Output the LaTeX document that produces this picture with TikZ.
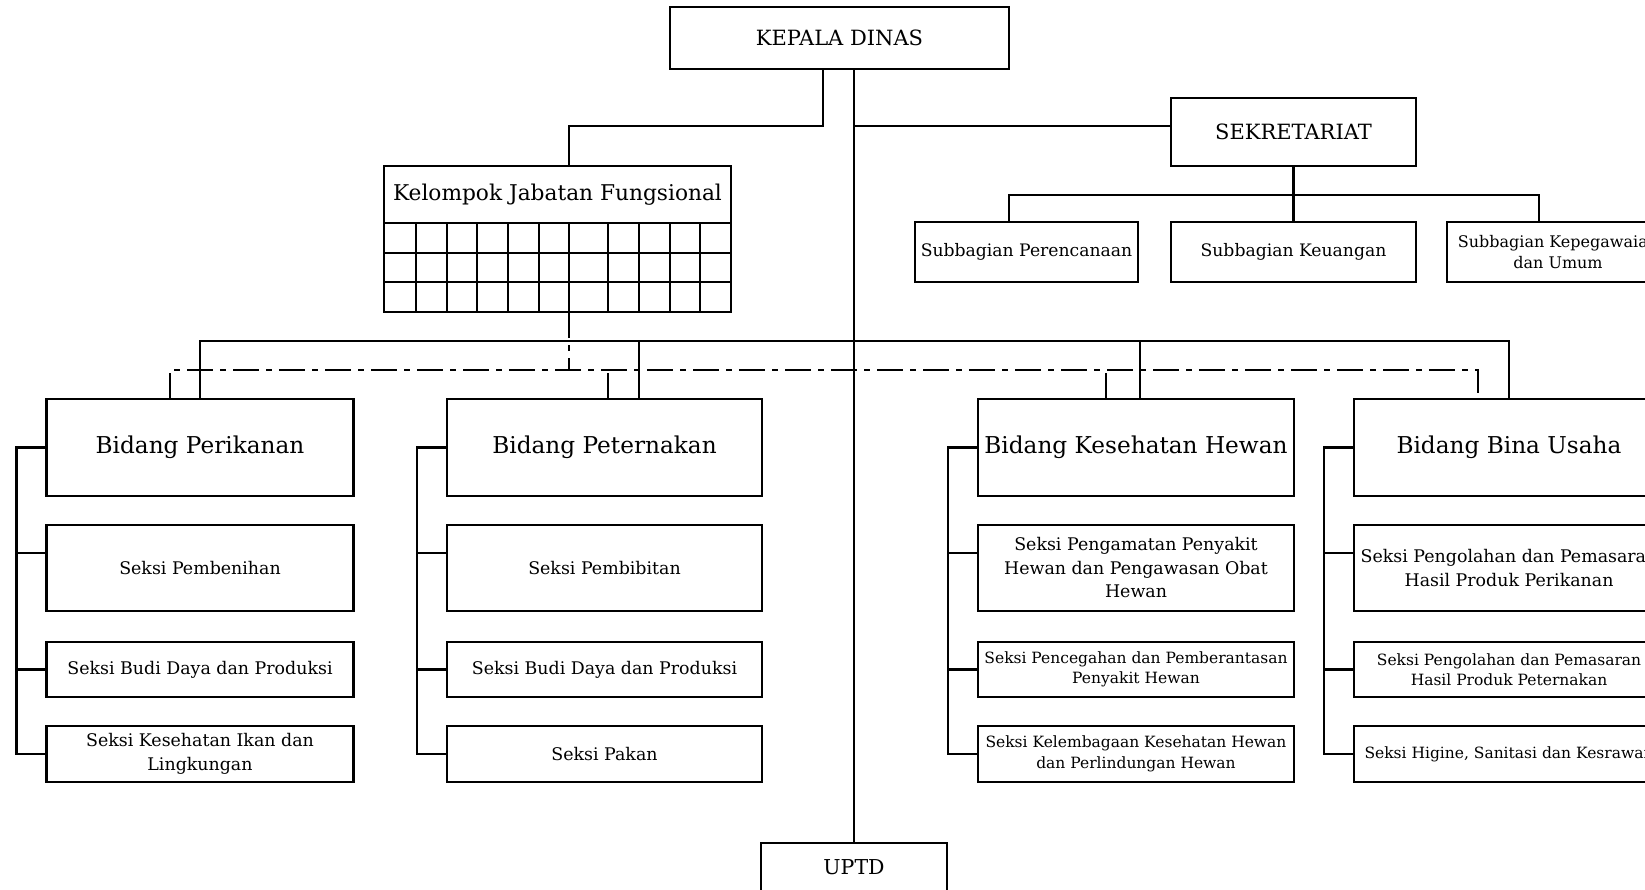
\documentclass[tikz,border=0pt]{standalone}
\usepackage{fontspec}
\setmainfont{DejaVu Serif}
\usetikzlibrary{positioning}
\tikzset{
    box/.style = {draw=black, line width=2.1pt, align=center, inner sep=0pt, outer sep=0pt},
    % Kepala dinas, sekretariat, UPTD
    node_top/.style = {box, font=\fontsize{21}{24}\selectfont},
    % Subbagian
    node_sub/.style = {box, minimum height=60pt, font=\fontsize{17.2}{21}\selectfont},
    % Bidang
    node_bid/.style = {box, minimum width=#1, minimum height=97pt, font=\fontsize{23.2}{27}\selectfont},
    % Seksi
    node_sek/.style = {box, font=\fontsize{17.4}{23.5}\selectfont},
    node_sek_s/.style = {box, font=\fontsize{15.5}{20.5}\selectfont},
    conn/.style = {line width=2.1pt},
    dconn/.style = {conn, dash pattern=on 26pt off 7pt on 6pt off 7pt}
}

\begin{document}
\begin{tikzpicture}[x=1pt, y=-1pt, node distance=29pt]
\useasboundingbox (0,0) rectangle (1645,889);

    % top
    \node[node_top, minimum width=339pt, minimum height=62pt] (kd) at (839.5,38) {KEPALA DINAS};
    \node[node_top, minimum width=245pt, minimum height=68pt] (sek) at (1293.5,132) {SEKRETARIAT};
    \node[node_top, minimum width=186pt, minimum height=48pt, font=\fontsize{20.5}{24}\selectfont] (uptd) at (854,867) {UPTD};

    \node[node_sub, minimum width=223pt] (sub1) at (1026.5,252) {Subbagian Perencanaan};
    \node[node_sub, minimum width=245pt] (sub2) at (1293.5,252) {Subbagian Keuangan};
    \node[node_sub, minimum width=222pt, font=\fontsize{16}{20.5}\selectfont] (sub3) at (1558,252) {Subbagian Kepegawaian\\dan Umum};

    % kelompok jabatan fungsional
    \node[box, minimum width=347pt, minimum height=57pt, font=\fontsize{21.7}{25}\selectfont] (kjf) at (557.5,194.5) {Kelompok Jabatan Fungsional};
    \draw[conn] (kjf.south west) rectangle (731,312);
    \foreach \y in {253,282} \draw[conn] (384,\y) -- (731,\y);
    \foreach \x in {416,447,477,508,539,569,608,639,670,700} \draw[conn] (\x,223) -- (\x,312);

    % bidang
    \node[node_bid=307pt] (bp) at (200,447.5) {Bidang Perikanan};
    \node[node_bid=315pt] (bt) at (604.5,447.5) {Bidang Peternakan};
    \node[node_bid=316pt] (bk) at (1136,447.5) {Bidang Kesehatan Hewan};
    \node[node_bid=310pt] (bu) at (1509,447.5) {Bidang Bina Usaha};

    % seksi
    \node[node_sek, minimum width=307pt, minimum height=86pt, below=of bp] (bp1) {Seksi Pembenihan};
    \node[node_sek, minimum width=307pt, minimum height=55pt, below=31pt of bp1] (bp2) {Seksi Budi Daya dan Produksi};
    \node[node_sek, minimum width=307pt, minimum height=56pt, below=of bp2] (bp3) {Seksi Kesehatan Ikan dan\\Lingkungan};

    \node[node_sek, minimum width=315pt, minimum height=86pt, below=of bt] (bt1) {Seksi Pembibitan};
    \node[node_sek, minimum width=315pt, minimum height=55pt, below=31pt of bt1] (bt2) {Seksi Budi Daya dan Produksi};
    \node[node_sek, minimum width=315pt, minimum height=56pt, below=of bt2] (bt3) {Seksi Pakan};

    \node[node_sek, minimum width=316pt, minimum height=86pt, below=of bk] (bk1) {Seksi Pengamatan Penyakit\\Hewan dan Pengawasan Obat\\Hewan};
    \node[node_sek_s, minimum width=316pt, minimum height=55pt, below=31pt of bk1] (bk2) {Seksi Pencegahan dan Pemberantasan\\Penyakit Hewan};
    \node[node_sek_s, minimum width=316pt, minimum height=56pt, below=of bk2] (bk3) {Seksi Kelembagaan Kesehatan Hewan\\dan Perlindungan Hewan};

    \node[node_sek, minimum width=310pt, minimum height=86pt, below=of bu] (bu1) {Seksi Pengolahan dan Pemasaran\\Hasil Produk Perikanan};
    \node[node_sek_s, minimum width=310pt, minimum height=55pt, below=31pt of bu1] (bu2) {Seksi Pengolahan dan Pemasaran\\Hasil Produk Peternakan};
    \node[node_sek_s, minimum width=310pt, minimum height=56pt, below=of bu2] (bu3) {Seksi Higine, Sanitasi dan Kesrawan};

    % connectors
    \coordinate (jsek) at (853,126);
    \coordinate (kd_l) at (823,69);
    \coordinate (kjf_top) at (569,166);
    \coordinate (kjf_bot) at (569,312);
    \coordinate (bar) at (853,341);
    \coordinate (dbar) at (569,370);
    \coordinate (bt_in) at (639,399);
    \coordinate (bk_in) at (1140,399);
    \coordinate (bp_d) at (170,399);
    \coordinate (bt_d) at (608,399);
    \coordinate (bk_d) at (1106,399);
    \coordinate (bu_d) at (1478,399);
    \coordinate (sub_l) at (1009,222);
    \coordinate (sub_r) at (1539,222);

    \draw[conn] (kd.south -| uptd.north) -- (uptd.north);
    \draw[conn] (jsek) -- (jsek -| sek.west);
    \draw[conn] (kd_l) -- ++(0,57) -| (kjf_top);
    \draw[conn] (sek.south) -- (sub2.north);
    \draw[conn] (sub_l) |- (sek.south |- 0,195) -| (sub_r);

    \draw[conn] (bp.north) |- (bar) -| (bu.north);
    \draw[conn] (bt_in) -- (bt_in |- bar);
    \draw[conn] (bk_in) -- (bk_in |- bar);

    \draw[dconn] (kjf_bot) -- (dbar);
    \draw[dconn] (bp_d) |- (dbar) -| (bu_d);
    \draw[dconn] (bt_d) -- (bt_d |- dbar);
    \draw[dconn] (bk_d) -- (bk_d |- dbar);

    \foreach \b in {bp,bt,bk,bu}{
        \draw[conn] (\b.west) -- ++(-30,0) |- (\b3.west);
        \draw[conn] ([yshift=15pt]\b1.west) -- ++(-30,0);
        \draw[conn] (\b2.west) -- ++(-30,0);
    }
\end{tikzpicture}
\end{document}
